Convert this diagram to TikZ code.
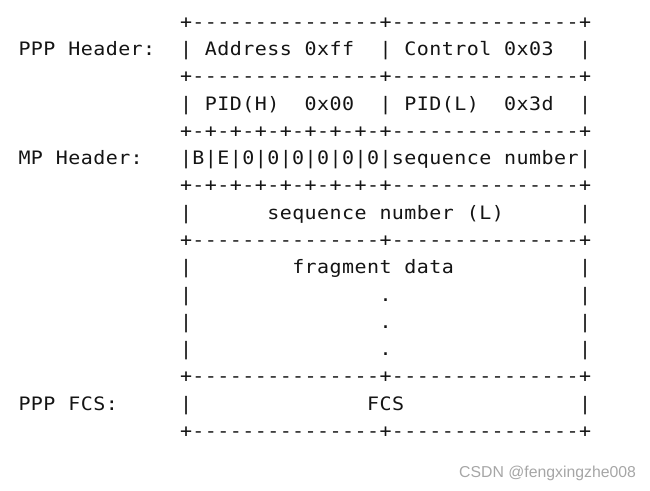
\documentclass[tikz,border=0pt]{standalone}
\usepackage{fontspec}
\setmonofont[FakeStretch=1.08]{DejaVu Sans Mono}
\newfontfamily\wmfont{Liberation Sans}
\newlength\cw
\setlength\cw{12.47bp}
\def\monoline#1{\monoaux#1\relax}
\def\monoaux#1{\ifx\relax#1\else\makebox[\cw][c]{#1}\expandafter\monoaux\fi}
\begin{document}
\begin{tikzpicture}[x=1bp,y=-1bp,
  asc/.style={anchor=base west,inner sep=0pt,outer sep=0pt,
    font=\ttfamily\fontsize{18.5bp}{22bp}\selectfont,text=black!92},
  wm/.style={anchor=base west,inner sep=0pt,text=gray!70,
    font=\wmfont\fontsize{15.8bp}{18bp}\selectfont}]
\useasboundingbox (0,0) rectangle (650,491);
\def\bx{179.8}
\def\lx{18.3}
% box rows
\node[asc] (r0)  at (\bx, 28.5)   {\monoline{+---------------+---------------+}};
\node[asc] (r1)  at (\bx, 55.75)  {\monoline{|~Address~0xff~~|~Control~0x03~~|}};
\node[asc] (r2)  at (\bx, 83.0)   {\monoline{+---------------+---------------+}};
\node[asc] (r3)  at (\bx, 110.25) {\monoline{|~PID(H)~~0x00~~|~PID(L)~~0x3d~~|}};
\node[asc] (r4)  at (\bx, 137.5)  {\monoline{+-+-+-+-+-+-+-+-+---------------+}};
\node[asc] (r5)  at (\bx, 164.75) {\monoline{|B|E|0|0|0|0|0|0|sequence~number|}};
\node[asc] (r6)  at (\bx, 192.0)  {\monoline{+-+-+-+-+-+-+-+-+---------------+}};
\node[asc] (r7)  at (\bx, 219.25) {\monoline{|~~~~~~sequence~number~(L)~~~~~~|}};
\node[asc] (r8)  at (\bx, 246.5)  {\monoline{+---------------+---------------+}};
\node[asc] (r9)  at (\bx, 273.75) {\monoline{|~~~~~~~~fragment~data~~~~~~~~~~|}};
\node[asc] (r10) at (\bx, 301.0)  {\monoline{|~~~~~~~~~~~~~~~.~~~~~~~~~~~~~~~|}};
\node[asc] (r11) at (\bx, 328.25) {\monoline{|~~~~~~~~~~~~~~~.~~~~~~~~~~~~~~~|}};
\node[asc] (r12) at (\bx, 355.5)  {\monoline{|~~~~~~~~~~~~~~~.~~~~~~~~~~~~~~~|}};
\node[asc] (r13) at (\bx, 382.75) {\monoline{+---------------+---------------+}};
\node[asc] (r14) at (\bx, 410.0)  {\monoline{|~~~~~~~~~~~~~~FCS~~~~~~~~~~~~~~|}};
\node[asc] (r15) at (\bx, 437.25) {\monoline{+---------------+---------------+}};
% labels
\node[asc] (l1)  at (\lx, 55.75)  {\monoline{PPP~Header:}};
\node[asc] (l5)  at (\lx, 164.75) {\monoline{MP~Header:}};
\node[asc] (l14) at (\lx, 410.0)  {\monoline{PPP~FCS:}};
% watermark
\node[wm] (wmk) at (459, 477) {CSDN @fengxingzhe008};
\end{tikzpicture}
\end{document}
